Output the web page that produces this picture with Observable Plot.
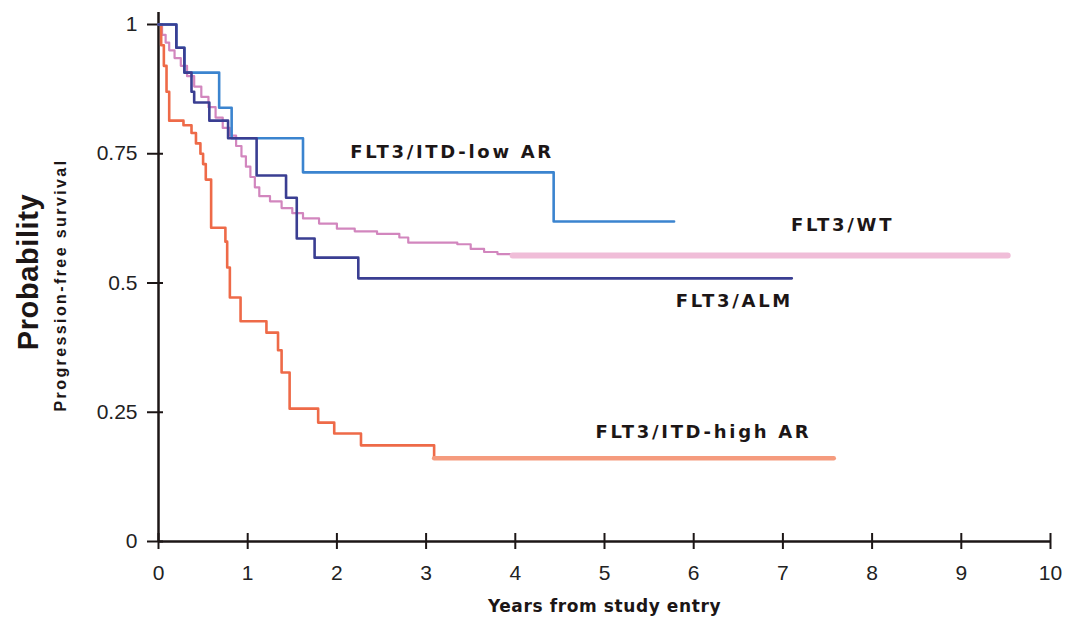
<!DOCTYPE html>
<html>
<head>
<meta charset="utf-8">
<script src="https://cdn.jsdelivr.net/npm/d3@7"></script>
<script src="https://cdn.jsdelivr.net/npm/@observablehq/plot@0.6"></script>
<style>
  html, body { margin: 0; padding: 0; background: #fff; }
</style>
</head>
<body>
<div id="chart"></div>
<script>
const xTicks = [0, 1, 2, 3, 4, 5, 6, 7, 8, 9, 10];
const yTicks = [0, 0.25, 0.5, 0.75, 1];

// FLT3/ITD-low AR
const lowAR_t = [0, 0.2, 0.29, 0.68, 0.82, 1.62, 4.43, 5.78];
const lowAR_s = [1, 0.955, 0.907, 0.839, 0.78, 0.714, 0.619, 0.619];

// FLT3/ALM
const alm_t = [0, 0.2, 0.29, 0.37, 0.4, 0.57, 0.78, 1.1, 1.43, 1.55, 1.75, 2.24, 7.1];
const alm_s = [1, 0.955, 0.907, 0.87, 0.849, 0.814, 0.78, 0.708, 0.665, 0.586, 0.549, 0.509, 0.509];

// FLT3/WT
const wt_t = [0, 0.04, 0.08, 0.12, 0.18, 0.25, 0.32, 0.4, 0.48, 0.56, 0.64, 0.72, 0.8, 0.87, 0.93, 0.98, 1.03, 1.08, 1.13, 1.25, 1.38, 1.5, 1.62, 1.8, 2.0, 2.2, 2.45, 2.7, 2.8, 3.35, 3.5, 3.65, 3.8, 3.97, 9.52];
const wt_s = [1, 0.98, 0.965, 0.95, 0.935, 0.92, 0.9, 0.88, 0.86, 0.84, 0.82, 0.8, 0.785, 0.765, 0.745, 0.725, 0.705, 0.685, 0.668, 0.658, 0.645, 0.635, 0.625, 0.615, 0.605, 0.6, 0.595, 0.588, 0.578, 0.575, 0.566, 0.56, 0.556, 0.553, 0.553];

// FLT3/ITD-high AR
const highAR_t = [0, 0.03, 0.06, 0.09, 0.12, 0.28, 0.37, 0.42, 0.47, 0.5, 0.53, 0.59, 0.75, 0.77, 0.8, 0.92, 1.21, 1.34, 1.38, 1.47, 1.79, 1.97, 2.27, 3.09, 7.57];
const highAR_s = [1, 0.96, 0.92, 0.87, 0.814, 0.805, 0.79, 0.77, 0.75, 0.73, 0.70, 0.607, 0.58, 0.53, 0.472, 0.426, 0.404, 0.37, 0.327, 0.257, 0.23, 0.209, 0.186, 0.161, 0.161];

// curve labels
const labelText = ["FLT3/ITD-low AR", "FLT3/WT", "FLT3/ALM", "FLT3/ITD-high AR"];
const labelX = [2.15, 7.09, 5.80, 4.90];
const labelY = [0.753, 0.611, 0.465, 0.212];

// axis titles
const xTitle = "Years from study entry";
const yTitle = "Probability";
const ySubtitle = "Progression-free survival";

// ---- build ----
const zip = (t, s) => t.map((x, i) => ({t: x, s: s[i]}));
const lowAR = zip(lowAR_t, lowAR_s);
const alm = zip(alm_t, alm_s);
const wt = zip(wt_t, wt_s);
const highAR = zip(highAR_t, highAR_s);
const labels = labelText.map((d, i) => ({text: d, x: labelX[i], y: labelY[i]}));

const ink = "#1c1616";
const font = "'Liberation Sans', Arial, Helvetica, sans-serif";
const boldFont = "'DejaVu Sans', Verdana, sans-serif";

const chart = Plot.plot({
  width: 1073,
  height: 626,
  marginLeft: 158,
  marginRight: 23,
  marginTop: 24,
  marginBottom: 85,
  style: {fontFamily: font, background: "#fff", color: ink},
  x: {domain: [0, 10]},
  y: {domain: [0, 1]},
  marks: [
    // axis lines
    Plot.ruleY([0], {stroke: ink, strokeWidth: 2.5}),
    Plot.ruleX([0], {stroke: ink, strokeWidth: 2.5, insetTop: -12}),
    // crossing tick marks
    Plot.ruleX(xTicks, {x: d => d, y1: () => 0, y2: () => 0, insetTop: 8, insetBottom: 8, stroke: ink, strokeWidth: 2}),
    Plot.ruleY(yTicks, {y: d => d, x1: () => 0, x2: () => 0, insetLeft: 5, insetRight: 11, stroke: ink, strokeWidth: 2}),
    // tick labels
    Plot.axisX({ticks: xTicks, tickSize: 0, tickPadding: 24, fontSize: 21, label: null, fill: "#222"}),
    Plot.axisY({ticks: yTicks, tickSize: 0, tickPadding: 21, fontSize: 21, label: null, fill: "#222", tickFormat: d => String(d)}),
    // survival curves
    Plot.line(wt, {x: "t", y: "s", curve: "step-after", stroke: "#d286be", strokeWidth: 2.2}),
    Plot.line(wt.slice(-2), {x: "t", y: "s", stroke: "#f0bdd8", strokeWidth: 6}),
    Plot.line(highAR, {x: "t", y: "s", curve: "step-after", stroke: "#ee6a48", strokeWidth: 2.6}),
    Plot.line(highAR.slice(-2), {x: "t", y: "s", stroke: "#f59b7e", strokeWidth: 4.5}),
    Plot.line(lowAR, {x: "t", y: "s", curve: "step-after", stroke: "#3b84cf", strokeWidth: 2.6}),
    Plot.line(alm, {x: "t", y: "s", curve: "step-after", stroke: "#3a3e92", strokeWidth: 2.6}),
    // curve labels
    Plot.text(labels, {x: "x", y: "y", text: "text", textAnchor: "start", fontFamily: boldFont, fontSize: 18, fontWeight: "bold", fill: ink}),
    // axis titles
    Plot.text([xTitle], {text: d => d, frameAnchor: "bottom", textAnchor: "middle", dy: 65, lineAnchor: "middle", fontFamily: boldFont, fontSize: 17, fontWeight: "bold", fill: ink}),
    Plot.text([yTitle], {text: d => d, frameAnchor: "left", textAnchor: "middle", dx: -130, dy: -11, rotate: -90, lineAnchor: "middle", fontSize: 29, fontWeight: "bold", fill: ink}),
    Plot.text([ySubtitle], {text: d => d, frameAnchor: "left", textAnchor: "middle", dx: -98, dy: 2, rotate: -90, lineAnchor: "middle", fontSize: 16, fontWeight: "bold", fill: ink})
  ]
});

// widen the lettering as in the reference
const spacing = new Map([
  ...labelText.map(t => [t, "2.7px"]),
  [xTitle, "0.6px"],
  [yTitle, "0.6px"],
  [ySubtitle, "2.4px"]
]);
d3.select(chart).selectAll("text").each(function() {
  const s = spacing.get(this.textContent);
  if (s) d3.select(this).style("letter-spacing", s);
});

document.getElementById("chart").appendChild(chart);
</script>
</body>
</html>
